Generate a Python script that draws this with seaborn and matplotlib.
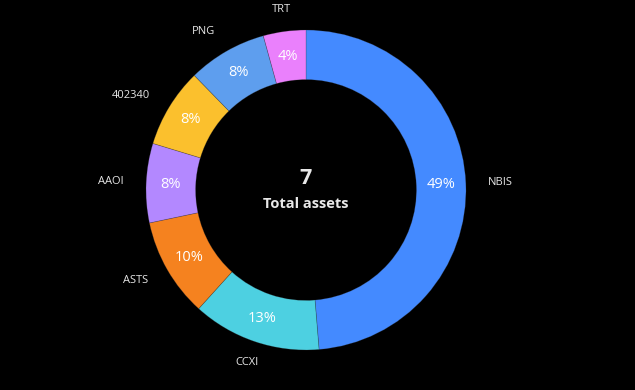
import matplotlib
matplotlib.use("Agg")
import matplotlib.pyplot as plt
import numpy as np
import seaborn as sns

# holdings, clockwise from the top
assets = ["NBIS", "CCXI", "ASTS", "AAOI", "402340", "PNG", "TRT"]
weights = [48.7, 13.0, 10.0, 8.0, 8.0, 8.0, 4.3]
colors = ["#448AFF", "#4DD0E1", "#F5821F", "#B388FF", "#FBC02D", "#5E9EEE", "#EA80FC"]
total_label = "Total assets"

sns.set_theme(style="dark", rc={"figure.facecolor": "black", "axes.facecolor": "black"})
plt.rcParams["font.family"] = ["Open Sans", "DejaVu Sans"]

fig = plt.figure(figsize=(6.35, 3.9), dpi=100)
ax = fig.add_axes([0, 0, 1, 1])

wedges, texts, autotexts = ax.pie(
    weights,
    labels=assets,
    colors=sns.color_palette(colors),
    startangle=90,
    counterclock=False,
    radius=1.0,
    labeldistance=1.14,
    pctdistance=0.845,
    autopct=lambda p: f"{p:.0f}%",
    wedgeprops=dict(width=0.31, edgecolor="#30303050", linewidth=0.5),
    textprops=dict(color="#e6e6e6", fontsize=8),
)
for t in autotexts:
    t.set_color("white")
    t.set_fontsize(10.5)

# labels near the top/bottom are centred on their anchor
for w, t in zip(wedges, texts):
    ang = np.deg2rad((w.theta1 + w.theta2) / 2)
    if abs(np.cos(ang)) < 0.4:
        t.set_ha("center")

ax.text(0, 0.07, str(len(assets)), ha="center", va="center",
        color="#e8e8e8", fontsize=15.5, fontweight="bold")
ax.text(0, -0.085, total_label, ha="center", va="center",
        color="#e8e8e8", fontsize=10.5, fontweight="bold")

# 1 data unit = 160 px, centre at (306, 190) from top-left
ax.set_xlim(-306 / 160, (635 - 306) / 160)
ax.set_ylim(-200 / 160, 190 / 160)
ax.set_aspect("auto")
ax.axis("off")

fig.savefig("out.png", dpi=100, facecolor="black")
